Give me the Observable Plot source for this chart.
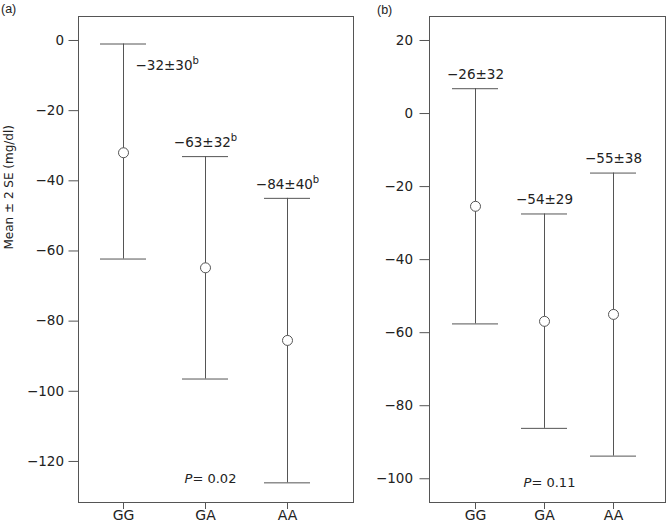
<!DOCTYPE html>
<html><head><meta charset="utf-8">
<script src="https://cdn.jsdelivr.net/npm/d3@7"></script>
<script src="https://cdn.jsdelivr.net/npm/@observablehq/plot@0.6"></script>
<style>
body{margin:0;background:#fff;font-family:"Liberation Sans",Arial,sans-serif;}
#wrap{position:relative;width:666px;height:532px;overflow:hidden}
#pa{position:absolute;left:0;top:0}
#pb{position:absolute;left:360px;top:0}
.pl{position:absolute;font-size:12.5px;color:#222;line-height:12px}
</style></head><body>
<div id="wrap">
<div id="pa"></div><div id="pb"></div>
<div class="pl" style="left:1px;top:3px">(a)</div>
<div class="pl" style="left:377px;top:4px">(b)</div>
</div>
<script>
// ---- data ----
const genotypes = ["GG", "GA", "AA"];
const meanA  = [-32, -64.8, -85.5];
const upperA = [-1, -33.1, -45];
const lowerA = [-62.3, -96.5, -126.1];
const labelA = ["−32±30", "−63±32", "−84±40"];
const supA   = ["b", "b", "b"];
const pA = "0.02";
const meanB  = [-25.4, -56.9, -55.0];
const upperB = [6.8, -27.5, -16.3];
const lowerB = [-57.6, -86.2, -93.8];
const labelB = ["−26±32", "−54±29", "−55±38"];
const supB   = ["", "", ""];
const pB = "0.11";
const yTicksA = [0, -20, -40, -60, -80, -100, -120];
const yTicksB = [20, 0, -20, -40, -60, -80, -100];
const yLabel = "Mean ± 2 SE (mg/dl)";

const LINE = "#555", TEXT = "#222";
const FONT = '"DejaVu Sans", Verdana, sans-serif';

function rows(mean, hi, lo, lab, sup) {
  return genotypes.map((g, i) => ({g, mean: mean[i], hi: hi[i], lo: lo[i], label: lab[i], sup: sup[i]}));
}

function panel(o) {
  const data = rows(o.mean, o.hi, o.lo, o.label, o.sup);
  const txt = d => d.label + (d.sup ? "^" + d.sup : "");
  const marks = [
    Plot.frame({stroke: LINE}),
    Plot.axisY({ticks: o.ticks, tickSize: 9.5, tickPadding: o.tickPad, label: null, stroke: LINE, fontSize: 13.5}),
    Plot.axisX({tickSize: 7, tickPadding: 1, label: null, stroke: LINE, fontSize: 14}),
    Plot.ruleX(data, {x: "g", y1: "lo", y2: "hi", stroke: LINE}),
    Plot.tickY(data, {x: "g", y: "hi", stroke: LINE}),
    Plot.tickY(data, {x: "g", y: "lo", stroke: LINE}),
    Plot.dot(data, {x: "g", y: "mean", r: 5, stroke: LINE, fill: "white", strokeWidth: 1}),
    Plot.text([{g: "GA", p: o.p}], {x: "g", text: d => "P= " + d.p, frameAnchor: "bottom", dx: 5, dy: o.pdy, fontSize: 13, fill: TEXT})
  ];
  if (o.firstSide) {
    marks.push(Plot.text(data, {filter: d => d.g === "GG", x: "g", y: "hi", text: txt, textAnchor: "start", dx: 12, dy: 22, fontSize: 13.5, fill: TEXT}));
    marks.push(Plot.text(data, {filter: d => d.g !== "GG", x: "g", y: "hi", text: txt, dy: -14, fontSize: 13.5, fill: TEXT}));
  } else {
    marks.push(Plot.text(data, {x: "g", y: "hi", text: txt, dy: -14, fontSize: 13.5, fill: TEXT}));
  }
  if (o.ylabel) {
    marks.push(Plot.text([o.ylabel], {text: d => d, frameAnchor: "left", rotate: -90, dx: -69, dy: -10, fontSize: 12, fill: TEXT}));
  }
  const svg = Plot.plot({
    width: o.width, height: 532,
    marginTop: 16, marginBottom: 30, marginLeft: o.ml, marginRight: o.mr,
    style: {fontFamily: FONT, fontSize: "13px", color: TEXT, background: "white", overflow: "visible"},
    x: {type: "band", domain: genotypes, paddingInner: o.pin, paddingOuter: 0, insetLeft: o.il, insetRight: o.ir, axis: null},
    y: {domain: o.domain, axis: null},
    marks
  });
  // superscripts and italic P as real text spans
  d3.select(svg).selectAll("text").each(function() {
    const t = this.textContent;
    const el = d3.select(this);
    if (t.includes("^")) {
      const [a, b] = t.split("^");
      el.text(null);
      el.append("tspan").text(a);
      el.append("tspan").attr("dy", "-6").attr("font-size", "10px").text(b);
    } else if (t.startsWith("P= ")) {
      el.text(null);
      el.append("tspan").attr("font-style", "italic").text("P");
      el.append("tspan").text(t.slice(1));
    }
  });
  return svg;
}

document.getElementById("pa").append(panel({
  width: 360, ml: 78, mr: 7, domain: [-131.7, 6.84], ticks: yTicksA, tickPad: 5,
  pin: 0.44, il: 22, ir: 43,
  mean: meanA, hi: upperA, lo: lowerA, label: labelA, sup: supA, p: pA, pdy: -20,
  firstSide: true, ylabel: yLabel
}));
document.getElementById("pb").append(panel({
  width: 306, ml: 69, mr: 1, domain: [-106.5, 26.57], ticks: yTicksB, tickPad: 7,
  pin: 0.335, il: 22.3, ir: 29.3,
  mean: meanB, hi: upperB, lo: lowerB, label: labelB, sup: supB, p: pB, pdy: -16,
  firstSide: false, ylabel: null
}));
</script>
</body></html>
